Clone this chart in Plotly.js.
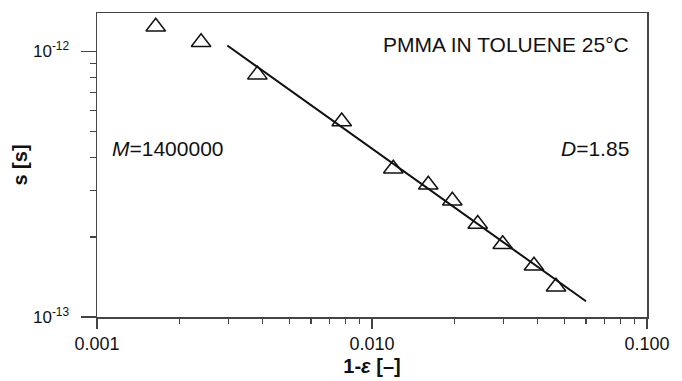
<!DOCTYPE html>
<html><head><meta charset="utf-8">
<script src="https://cdn.plot.ly/plotly-3.0.1.min.js"></script>
<style>html,body{margin:0;padding:0;background:#fff}#chart{width:682px;height:381px}</style>
</head><body><div id="chart"></div>
<script>
// measured points: 1-epsilon vs s
const oneMinusEps = [0.001635, 0.00239, 0.00383, 0.00776, 0.01195, 0.01602, 0.01959, 0.02423, 0.02987, 0.03882, 0.04668];
const sValues = [1.239e-12, 1.084e-12, 8.18e-13, 5.45e-13, 3.615e-13, 3.148e-13, 2.74e-13, 2.239e-13, 1.88e-13, 1.56e-13, 1.30e-13];
// fitted power-law line endpoints
const fitX = [0.002977, 0.06001];
const fitY = [1.053e-12, 1.146e-13];
// tick labels
const xTickVals = [0.001, 0.01, 0.1];
const xTickText = ['0.001', '0.010', '0.100'];
const yTickVals = [1e-13, 1e-12];
const yTickText = ['10<sup>-13</sup>', '10<sup>-12</sup>'];

function minorVals(lo, hi) {
  const out = [];
  for (let e = lo; e < hi; e++) for (let m = 2; m <= 9; m++) out.push(m * Math.pow(10, e));
  return out;
}

const font = 'Liberation Sans, Arial, sans-serif';
const data = [
  {x: fitX, y: fitY, mode: 'lines', line: {color: '#111', width: 2}, hoverinfo: 'skip'},
  {x: oneMinusEps, y: sValues, mode: 'markers',
   marker: {symbol: 'triangle-up', size: 17, color: 'rgba(255,255,255,0)', line: {color: '#111', width: 1.5}}}
];
const layout = {
  width: 682, height: 381,
  margin: {l: 97, r: 35, t: 13, b: 64},
  paper_bgcolor: '#fff', plot_bgcolor: '#fff',
  showlegend: false,
  font: {family: font, size: 18, color: '#111'},
  xaxis: {
    showgrid: false, zeroline: false, showline: true, linecolor: '#444', linewidth: 1.5,
    mirror: true, ticks: 'outside', tickcolor: '#444', tickwidth: 1.5,
    tickfont: {family: font, size: 18, color: '#111'},
    type: 'log', range: [-3, -1], tickmode: 'array', tickvals: xTickVals, ticktext: xTickText,
    ticklen: 10,
    minor: {tickmode: 'array', tickvals: minorVals(-3, -1), ticks: 'outside', ticklen: 5, tickcolor: '#444', tickwidth: 1.2},
    title: {text: '<b>1-<i>ε</i> [–]</b>', font: {family: font, size: 20, color: '#111'}, standoff: 6}
  },
  yaxis: {
    showgrid: false, zeroline: false, showline: true, linecolor: '#444', linewidth: 1.5,
    mirror: true, ticks: 'outside', tickcolor: '#444', tickwidth: 1.5,
    tickfont: {family: font, size: 17, color: '#111'},
    type: 'log', range: [-13, -11.855], tickmode: 'array', tickvals: yTickVals, ticktext: yTickText,
    ticklen: 15, ticklabelstandoff: 8,
    minor: {tickmode: 'array', tickvals: minorVals(-13, -12), ticks: 'outside', ticklen: 6, tickcolor: '#444', tickwidth: 1.2},
    title: {text: '<b>s [s]</b>', font: {family: font, size: 20, color: '#111'}, standoff: 0}
  },
  annotations: [
    {xref: 'paper', yref: 'paper', x: 0.97, y: 0.897, xanchor: 'right', yanchor: 'middle', showarrow: false,
     text: 'PMMA IN TOLUENE 25°C', font: {family: font, size: 21, color: '#111'}},
    {xref: 'paper', yref: 'paper', x: 0.97, y: 0.553, xanchor: 'right', yanchor: 'middle', showarrow: false,
     text: '<i>D</i>=1.85', font: {family: font, size: 21, color: '#111'}},
    {xref: 'paper', yref: 'paper', x: 0.0236, y: 0.553, xanchor: 'left', yanchor: 'middle', showarrow: false,
     text: '<i>M</i>=1400000', font: {family: font, size: 21, color: '#111'}}
  ]
};
Plotly.newPlot('chart', data, layout, {displayModeBar: false, staticPlot: true});
</script></body></html>
